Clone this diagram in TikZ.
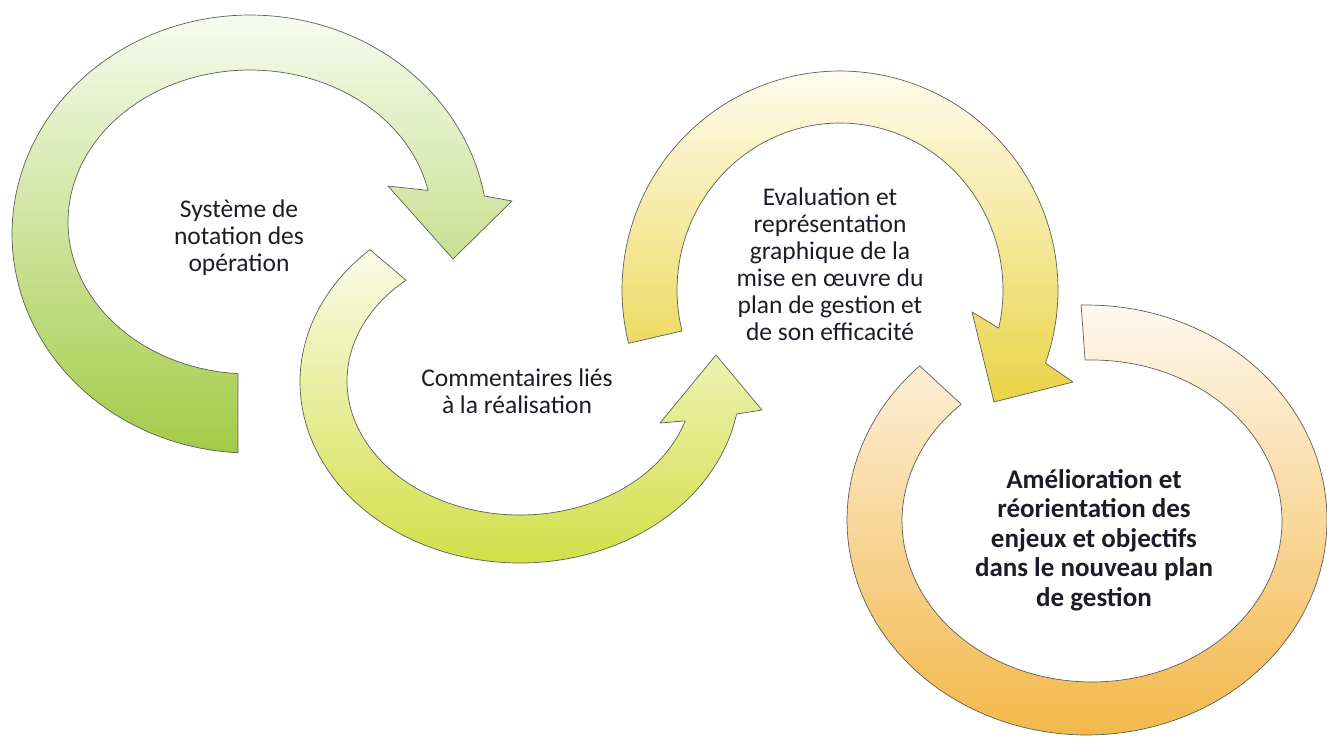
\documentclass[tikz,border=0pt]{standalone}
\usepackage{fontspec}
\setmainfont{Carlito}
\definecolor{gTop}{HTML}{F7FBEF}
\definecolor{gBot}{HTML}{A3CB47}
\definecolor{ygTop}{HTML}{FAFCE8}
\definecolor{ygBot}{HTML}{D2DF48}
\definecolor{yTop}{HTML}{FFFCEE}
\definecolor{yBot}{HTML}{EAD446}
\definecolor{oTop}{HTML}{FFF8EE}
\definecolor{oBot}{HTML}{F2B84A}
\definecolor{edge}{HTML}{5E5E56}
\definecolor{txt}{HTML}{1C1C28}
\tikzset{
  ringarrow/.style={draw=edge, line width=0.7pt, line join=round},
  lbl/.style={align=center, text=txt, font=\fontsize{25.5}{27}\selectfont, inner sep=0pt},
  lblbold/.style={align=center, text=txt, font=\bfseries\fontsize{27}{29.5}\selectfont, inner sep=0pt}
}
\begin{document}
\begin{tikzpicture}[x=1pt,y=-1pt]
\useasboundingbox (0,0) rectangle (1327,736);
% Arrow 1 (green)
\shade[ringarrow, top color=gTop, bottom color=gBot]
  plot[domain=92.9:350, samples=120] ({250+238*cos(\x)},{234+219*sin(\x)})
  -- (512,201) -- (453,259) -- (388,186)
  -- plot[domain=348:93.8, samples=120] ({250+182*cos(\x)},{222+152*sin(\x)})
  -- cycle;
% Arrow 2 (yellow-green)
\shade[ringarrow, top color=ygTop, bottom color=ygBot]
  plot[domain=227:10.2, samples=120] ({520+220*cos(\x)},{382+181*sin(\x)})
  -- (762,410) -- (716,355) -- (660,423)
  -- plot[domain=17.3:228.8, samples=120] ({520+173*cos(\x)},{381+134*sin(\x)})
  -- cycle;
% Arrow 3 (yellow)
\shade[ringarrow, top color=yTop, bottom color=yBot]
  plot[domain=165.9:379.5, samples=120] ({840+218*cos(\x)},{290+219*sin(\x)})
  -- (1073,382) -- (994,402) -- (972,312)
  -- plot[domain=373.2:165.8, samples=120] ({840+163*cos(\x)},{290+167*sin(\x)})
  -- cycle;
% Arrow 4 (orange, no head)
\shade[ringarrow, top color=oTop, bottom color=oBot]
  plot[domain=268.6:585.8, samples=150] ({1087+240*cos(\x)},{520+215*sin(\x)})
  -- plot[domain=586.5:267.9, samples=150] ({1092+190*cos(\x)},{521+161*sin(\x)})
  -- cycle;
% Labels
\node[lbl] (t1) at (239,238) {Système de\\notation des\\opération};
\node[lbl] (t2) at (517,391) {Commentaires liés\\à la réalisation};
\node[lbl] (t3) at (830,264) {Evaluation et\\représentation\\graphique de la\\mise en œuvre du\\plan de gestion et\\de son efficacité};
\node[lblbold] (t4) at (1094,540) {Amélioration et\\réorientation des\\enjeux et objectifs\\dans le nouveau plan\\de gestion};
\end{tikzpicture}
\end{document}
